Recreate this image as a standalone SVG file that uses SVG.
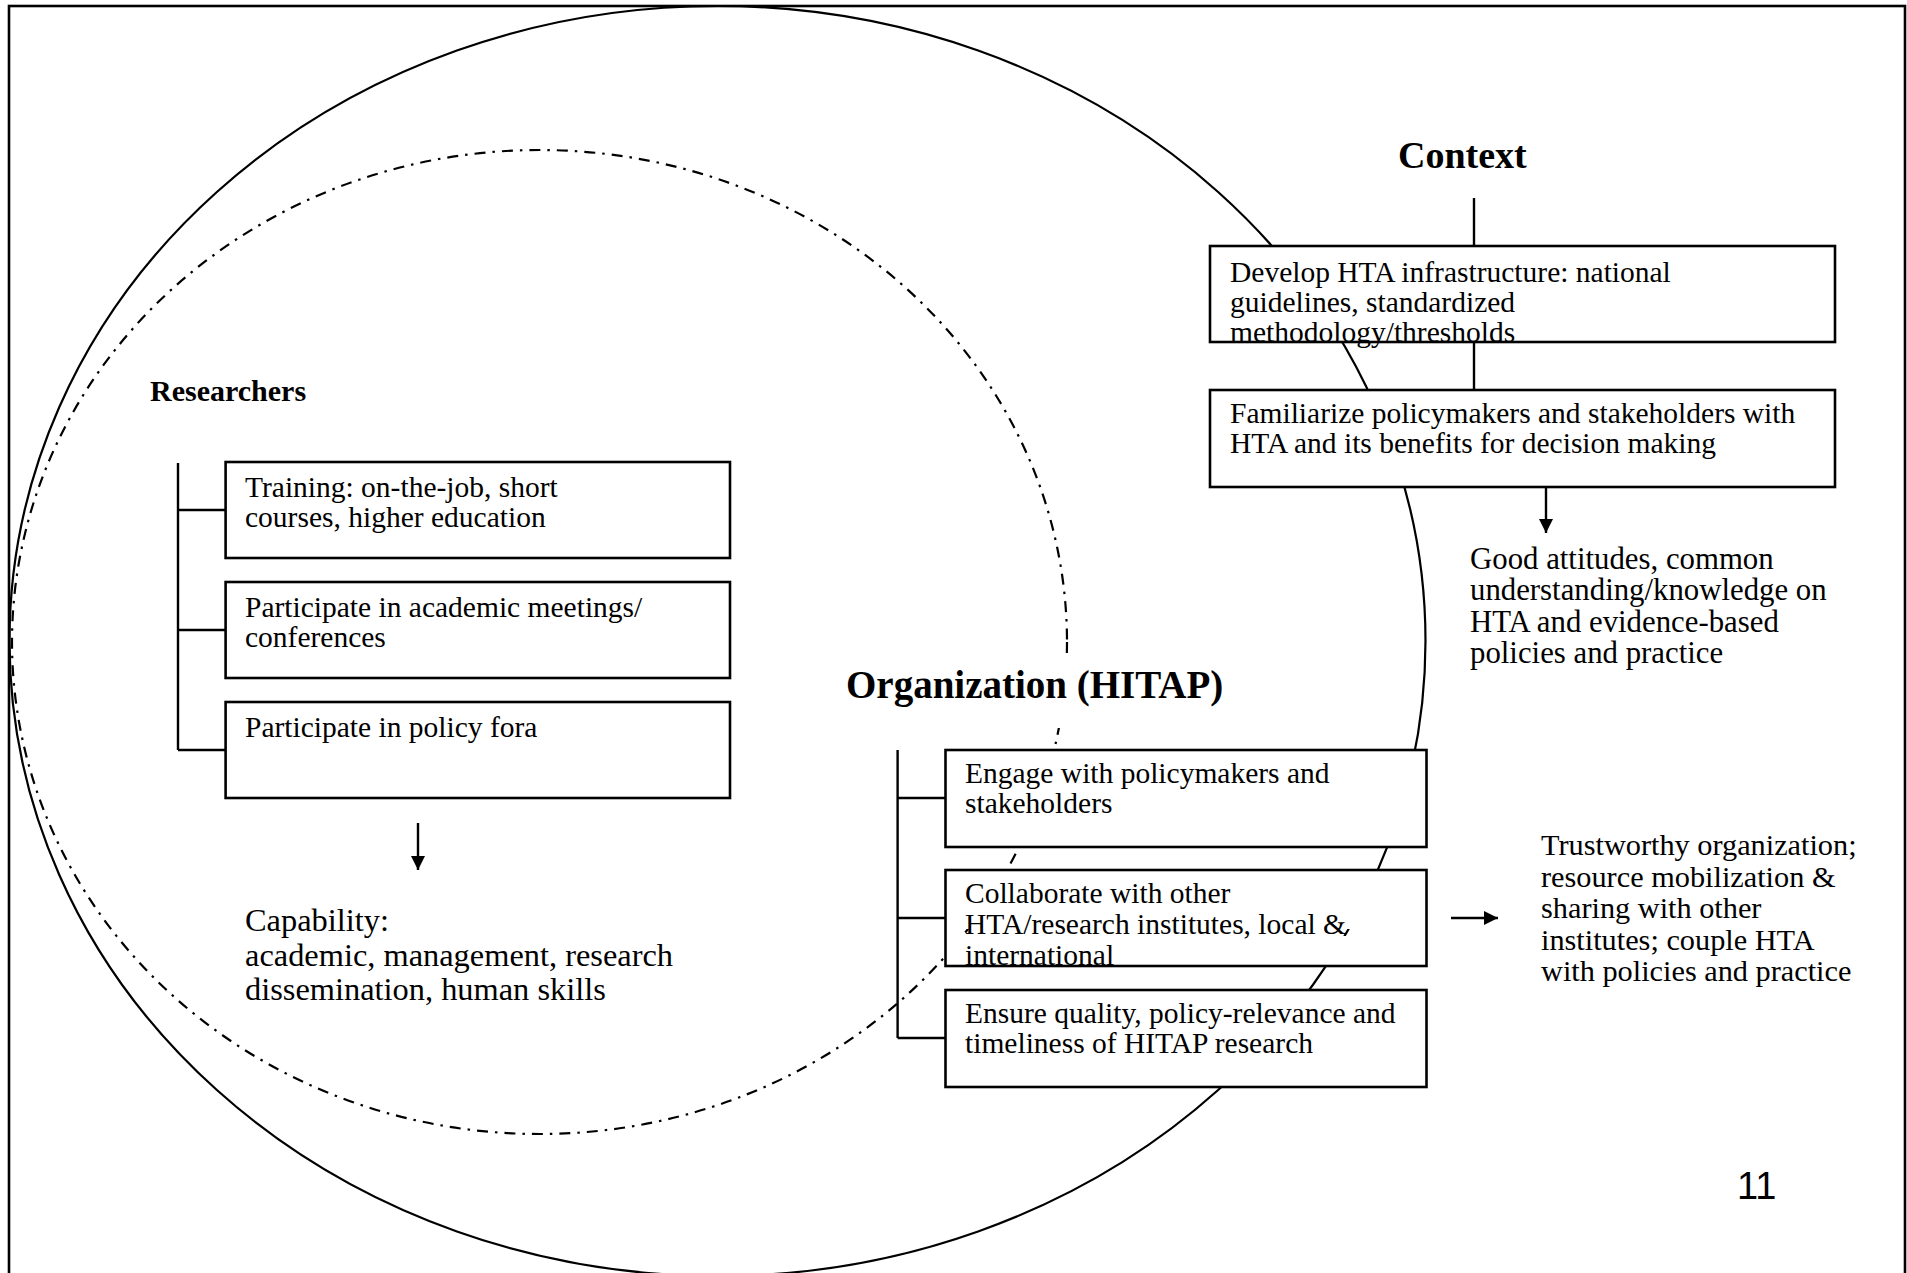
<svg xmlns="http://www.w3.org/2000/svg" width="1907" height="1273" viewBox="0 0 1907 1273">
<style>
.t{font-family:"Liberation Serif","Times New Roman",serif;font-size:29.5px;fill:#000}
.o{font-family:"Liberation Serif","Times New Roman",serif;font-size:30.8px;fill:#000}
.o2{font-family:"Liberation Serif","Times New Roman",serif;font-size:30.3px;fill:#000}
.cap{font-family:"Liberation Serif","Times New Roman",serif;font-size:32.4px;fill:#000}
.h{font-family:"Liberation Serif","Times New Roman",serif;font-weight:bold;fill:#000}
.box{fill:#fff;stroke:#000;stroke-width:2.6}
.ln{stroke:#000;stroke-width:2.4;fill:none}
.solid{fill:none;stroke:#000;stroke-width:2.2}
.dd{fill:none;stroke:#000;stroke-width:2.2;stroke-dasharray:11 7 2.5 7}
</style>
<defs>
<marker id="ah" viewBox="0 0 10 10" refX="10" refY="5" markerWidth="6" markerHeight="6" markerUnits="strokeWidth" orient="auto">
<path d="M0,0 L10,5 L0,10 Z" fill="#000"/>
</marker>
<clipPath id="band"><rect x="947" y="929" width="478" height="7"/></clipPath>
</defs>
<rect width="1907" height="1273" fill="#fff"/>
<rect x="9" y="6" width="1896" height="1290" fill="none" stroke="#000" stroke-width="2.6"/>

<g id="circles">
<ellipse id="context-circle" class="solid" cx="717.5" cy="641" rx="708" ry="635"/>
<ellipse id="organization-circle" class="dd" cx="539.5" cy="642" rx="527.5" ry="492"/>
</g>

<g id="connectors">
<line class="ln" x1="178" y1="463" x2="178" y2="750"/>
<line class="ln" x1="178" y1="510" x2="226" y2="510"/>
<line class="ln" x1="178" y1="630" x2="226" y2="630"/>
<line class="ln" x1="178" y1="750" x2="226" y2="750"/>
<line class="ln" x1="418" y1="823" x2="418" y2="870" marker-end="url(#ah)"/>
<line class="ln" x1="1474" y1="198" x2="1474" y2="246"/>
<line class="ln" x1="1474" y1="342" x2="1474" y2="390"/>
<line class="ln" x1="1546" y1="487" x2="1546" y2="533" marker-end="url(#ah)"/>
<line class="ln" x1="897.6" y1="750" x2="897.6" y2="1038"/>
<line class="ln" x1="897.6" y1="798" x2="945.5" y2="798"/>
<line class="ln" x1="897.6" y1="918" x2="945.5" y2="918"/>
<line class="ln" x1="897.6" y1="1038" x2="945.5" y2="1038"/>
<line class="ln" x1="1451" y1="918" x2="1498" y2="918" marker-end="url(#ah)"/>
</g>

<g id="researchers">
<text class="h" x="150" y="401" font-size="30">Researchers</text>
</g>
<g id="training">
<rect class="box" x="225.6" y="462" width="504.4" height="96"/>
<text class="t" x="245" y="497">Training: on-the-job, short</text>
<text class="t" x="245" y="527">courses, higher education</text>
</g>
<g id="academic-meetings">
<rect class="box" x="225.6" y="582" width="504.4" height="96"/>
<text class="t" x="245" y="617">Participate in academic meetings/</text>
<text class="t" x="245" y="647">conferences</text>
</g>
<g id="policy-fora">
<rect class="box" x="225.6" y="702" width="504.4" height="96"/>
<text class="t" x="245" y="737">Participate in policy fora</text>
</g>
<g id="capability">
<text class="cap" x="245" y="931">Capability:</text>
<text class="cap" x="245" y="966">academic, management, research</text>
<text class="cap" x="245" y="1000">dissemination, human skills</text>
</g>

<g id="context">
<text class="h" x="1398" y="168" font-size="38">Context</text>
</g>
<g id="develop-hta">
<rect class="box" x="1210" y="246" width="625" height="96"/>
<text class="t" x="1230" y="282">Develop HTA infrastructure: national</text>
<text class="t" x="1230" y="312">guidelines, standardized</text>
<text class="t" x="1230" y="342">methodology/thresholds</text>
</g>
<g id="familiarize">
<rect class="box" x="1210" y="390" width="625" height="97"/>
<text class="t" x="1230" y="423">Familiarize policymakers and stakeholders with</text>
<text class="t" x="1230" y="453">HTA and its benefits for decision making</text>
</g>
<g id="good-attitudes">
<text class="o" x="1470" y="569">Good attitudes, common</text>
<text class="o" x="1470" y="600">understanding/knowledge on</text>
<text class="o" x="1470" y="632">HTA and evidence-based</text>
<text class="o" x="1470" y="663">policies and practice</text>
</g>

<g id="organization">
<rect x="838" y="655" width="394" height="73" fill="#fff"/>
<text class="h" x="846" y="698" font-size="39">Organization (HITAP)</text>
</g>
<g id="engage">
<rect class="box" x="945.5" y="750" width="481" height="97"/>
<text class="t" x="965" y="783">Engage with policymakers and</text>
<text class="t" x="965" y="813">stakeholders</text>
</g>
<g id="collaborate">
<rect class="box" x="945.5" y="870" width="481" height="96"/>
<g clip-path="url(#band)">
<ellipse class="solid" cx="717.5" cy="641" rx="708" ry="635"/>
<ellipse class="dd" cx="539.5" cy="642" rx="527.5" ry="492"/>
</g>
<text class="t" x="965" y="903">Collaborate with other</text>
<text class="t" x="965" y="934">HTA/research institutes, local &amp;</text>
<text class="t" x="965" y="965">international</text>
</g>
<g id="ensure-quality">
<rect class="box" x="945.5" y="990" width="481" height="97"/>
<text class="t" x="965" y="1023">Ensure quality, policy-relevance and</text>
<text class="t" x="965" y="1053">timeliness of HITAP research</text>
</g>
<g id="trustworthy">
<text class="o2" x="1541" y="855">Trustworthy organization;</text>
<text class="o2" x="1541" y="887">resource mobilization &amp;</text>
<text class="o2" x="1541" y="918">sharing with other</text>
<text class="o2" x="1541" y="950">institutes; couple HTA</text>
<text class="o2" x="1541" y="981">with policies and practice</text>
</g>

<g id="page-number">
<text x="1737" y="1199" font-family="Liberation Sans, Arial, sans-serif" font-size="38" fill="#000">11</text>
</g>
</svg>
